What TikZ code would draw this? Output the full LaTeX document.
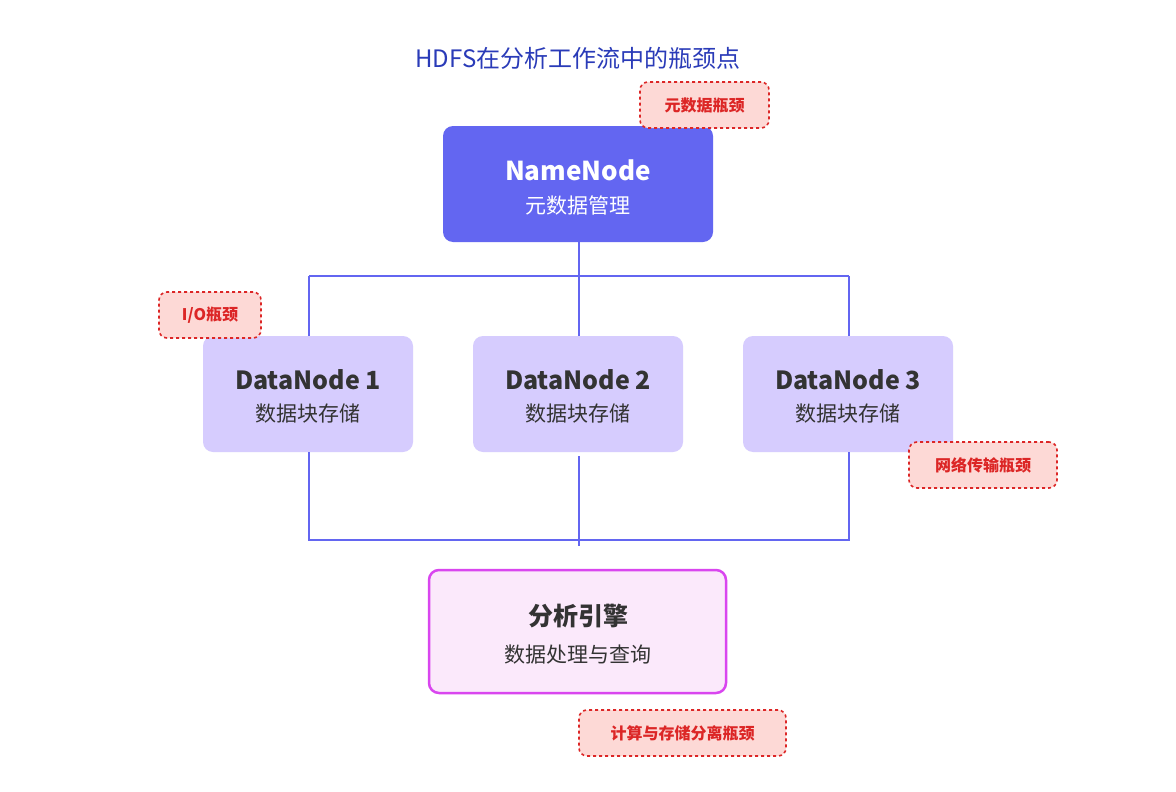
\documentclass[tikz,border=0pt]{standalone}
\usepackage{fontspec}
\setmainfont{Noto Sans CJK SC}
\definecolor{indig}{HTML}{6366F1}
\definecolor{dnfill}{HTML}{D6CCFE}
\definecolor{badgefill}{HTML}{FDD9D6}
\definecolor{badgered}{HTML}{DC2626}
\definecolor{anfill}{HTML}{FBE9FB}
\definecolor{anborder}{HTML}{D946EF}
\definecolor{titleblue}{HTML}{2A3BB8}
\definecolor{txt}{HTML}{333333}
\begin{document}
\begin{tikzpicture}[x=1pt,y=-1pt,
  box/.style={rounded corners=10pt,align=center,inner sep=0pt},
  badge/.style={draw=badgered,fill=badgefill,dashed,line width=1.6pt,rounded corners=8pt,text=badgered,font=\fontsize{16}{18}\selectfont\bfseries,inner sep=0pt},
  conn/.style={draw=indig,line width=2.2pt}]
\useasboundingbox[fill=white] (0,0) rectangle (1176,792);
\node[text=titleblue,font=\fontsize{24}{28}\selectfont] (title) at (578,58) {HDFS在分析工作流中的瓶颈点};
% lines
\coordinate (t) at (579,276);
\coordinate (tl) at (309,276);
\coordinate (tr) at (849,276);
\coordinate (b) at (579,546);
\coordinate (bl) at (309,540);
\coordinate (br) at (849,540);
\node[box,fill=indig,minimum width=270pt,minimum height=116pt] (nn) at (578,184) {};
\node[box,fill=dnfill,minimum width=210pt,minimum height=116pt] (d1) at (308,394) {};
\node[box,fill=dnfill,minimum width=210pt,minimum height=116pt] (d2) at (578,394) {};
\node[box,fill=dnfill,minimum width=210pt,minimum height=116pt] (d3) at (848,394) {};
\draw[conn] (nn.south -| t) -- (t);
\draw[conn] (tl) -- (tr);
\draw[conn] (tl) -- (tl |- d1.north);
\draw[conn] (t) -- (t |- d2.north);
\draw[conn] (tr) -- (tr |- d3.north);
\draw[conn] (d1.south -| bl) -- (bl) -- (br) -- (d3.south -| br);
\draw[conn] (579,456) -- (b);
\node[box,fill=anfill,draw=anborder,line width=2.5pt,minimum width=297pt,minimum height=123pt] (an) at (577.5,631.5) {};
% texts
\node[text=white,font=\fontsize{26}{30}\selectfont\bfseries] at (578,170) {NameNode};
\node[text=white,font=\fontsize{21}{25}\selectfont] at (578,206) {元数据管理};
\foreach \n/\x in {1/308,2/578,3/848}{
  \node[text=txt,font=\fontsize{25}{30}\selectfont\bfseries] at (\x,380) {DataNode \n};
  \node[text=txt,font=\fontsize{21}{25}\selectfont] at (\x,414) {数据块存储};
}
\node[text=txt,font=\fontsize{25}{30}\selectfont\bfseries] at (578,616) {分析引擎};
\node[text=txt,font=\fontsize{21}{25}\selectfont] at (578,655) {数据处理与查询};
% badges
\node[badge,minimum width=129pt,minimum height=46pt] (b1) at (704.5,105) {元数据瓶颈};
\node[badge,minimum width=102pt,minimum height=46pt] (b2) at (210,315) {I/O瓶颈};
\node[badge,minimum width=148pt,minimum height=46pt] (b3) at (983,465) {网络传输瓶颈};
\node[badge,minimum width=207pt,minimum height=46pt] (b4) at (682.5,733) {计算与存储分离瓶颈};
\end{tikzpicture}
\end{document}
